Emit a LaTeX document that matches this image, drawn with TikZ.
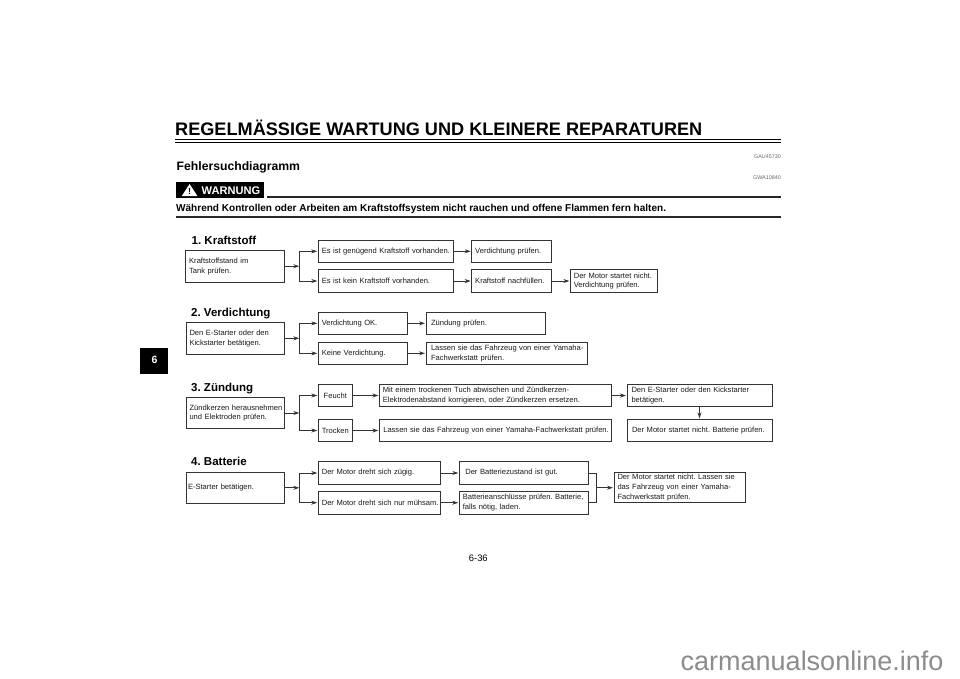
\documentclass[tikz,border=0pt]{standalone}
\usepackage{fontspec}
\setmainfont{Liberation Sans}
\usetikzlibrary{arrows.meta}
\frenchspacing
\hfuzz=20pt
\tikzset{
  flowbox/.style={draw=black!80,line width=0.85pt,inner xsep=3.5pt,inner ysep=0pt,outer sep=0pt,
    align=left,font=\fontsize{7.56}{9.7}\selectfont,text=black!90},
  boxsize/.style 2 args={minimum width=#1pt,minimum height=#2pt,text width=#1pt-7pt},
  flowline/.style={draw=black!80,line width=0.85pt},
  flowarrow/.style={flowline,-{Stealth[length=6pt,width=4pt]},shorten >=1pt},
  heading/.style={font=\bfseries\fontsize{11.5}{14}\selectfont,anchor=base west,inner sep=0pt},
  rulethick/.style={line width=1.5pt,black!85},
  codelabel/.style={font=\fontsize{5.4}{6}\selectfont,text=black!60,anchor=east,inner sep=0pt}
}
\begin{document}
\begin{tikzpicture}[x=1pt,y=-1pt]
  \useasboundingbox (0,0) rectangle (960,678);
  % page head
  \node[font=\bfseries\fontsize{18.13}{20}\selectfont,anchor=base west,inner sep=0pt] (title) at (175,135.7)
    {REGELMÄSSIGE WARTUNG UND KLEINERE REPARATUREN};
  \draw[line width=1.6pt,black] (175,139.3) -- (781,139.3);
  \draw[line width=1.2pt,black] (175,142.3) -- (781,142.3);
  \node[codelabel] (gau) at (781,156.5) {GAU45730};
  \node[codelabel] (gwa) at (781,178) {GWA10840};
  \node[font=\bfseries\fontsize{12.2}{14}\selectfont,anchor=base west,inner sep=0pt] (fehler) at (176.5,170) {Fehlersuchdiagramm};
  \fill[black] (176,182.3) rectangle (264.3,198.3);
  \fill[white,line join=round] (189.6,184) -- (197.4,196) -- (181.8,196) -- cycle;
  \node[font=\bfseries\fontsize{9}{10}\selectfont,inner sep=0pt] (warnmark) at (189.6,191) {!};
  \node[font=\bfseries\fontsize{11.1}{12}\selectfont,text=white,anchor=west,inner sep=0pt] (warnung) at (201.5,190.3) {WARNUNG};
  \draw[rulethick,line width=1.2pt] (267.3,197) -- (781,197);
  \node[font=\bfseries\fontsize{10.03}{11}\selectfont,anchor=base west,inner sep=0pt] (warntext) at (176,211)
    {Während Kontrollen oder Arbeiten am Kraftstoffsystem nicht rauchen und offene Flammen fern halten.};
  \draw[rulethick] (176,217) -- (781,217);
  \fill[black] (140,348) rectangle (168,374);
  \node[font=\bfseries\fontsize{10.5}{12}\selectfont,text=white,inner sep=0pt] (tab) at (154.5,360) {6};
  \node[font=\fontsize{9.4}{11}\selectfont,inner sep=0pt] (pagenum) at (478.3,558.3) {6-36};
  \node[font=\fontsize{27}{30}\selectfont,text=black!45,anchor=west,inner sep=0pt] (site) at (680.5,661) {carmanualsonline.info};

  % 1. Kraftstoff
  \node[heading] (h1) at (191.5,244) {1. Kraftstoff};
  \node[flowbox,boxsize={98.6}{31.7}] (ka) at (235,266.2) {Kraftstoffstand im\\Tank prüfen.};
  \node[flowbox,boxsize={135.4}{22.7}] (kb) at (386,251.3) {\mbox{Es ist genügend Kraftstoff vorhanden.}};
  \node[flowbox,boxsize={135.4}{22.7}] (kc) at (386,281) {Es ist kein Kraftstoff vorhanden.};
  \node[flowbox,boxsize={80}{22.7}] (kd) at (511.7,251.3) {Verdichtung prüfen.};
  \node[flowbox,boxsize={80}{22.7}] (ke) at (511.7,281) {\mbox{Kraftstoff nachfüllen.}};
  \node[flowbox,boxsize={87.4}{22.7}] (kf) at (614,281) {Der Motor startet nicht.\\Verdichtung prüfen.};
  \coordinate (kj) at (299.3,266.2);
  \draw[flowarrow,shorten >=0pt] (ka) -- (kj);
  \draw[flowarrow] (kj) |- (kb);
  \draw[flowarrow] (kj) |- (kc);
  \draw[flowarrow] (kb) -- (kd);
  \draw[flowarrow] (kc) -- (ke);
  \draw[flowarrow] (ke) -- (kf);

  % 2. Verdichtung
  \node[heading] (h2) at (191,316.7) {2. Verdichtung};
  \node[flowbox,boxsize={98}{31.4}] (va) at (235,338.3) {Den E-Starter oder den\\Kickstarter betätigen.};
  \node[flowbox,boxsize={88.7}{22}] (vb) at (362.7,323.3) {Verdichtung OK.};
  \node[flowbox,boxsize={88.7}{22.7}] (vc) at (362.7,353.3) {Keine Verdichtung.};
  \node[flowbox,boxsize={119.3}{22},inner xsep=5pt,text width=109.3pt] (vd) at (485.7,323.3) {Zündung prüfen.};
  \node[flowbox,boxsize={161}{22.7},inner xsep=5pt,text width=151pt] (ve) at (506.5,353.3) {\mbox{Lassen sie das Fahrzeug von einer Yamaha-}\\Fachwerkstatt prüfen.};
  \coordinate (vj) at (299.3,338.3);
  \draw[flowarrow,shorten >=0pt] (va) -- (vj);
  \draw[flowarrow] (vj) |- (vb);
  \draw[flowarrow] (vj) |- (vc);
  \draw[flowarrow] (vb) -- (vd);
  \draw[flowarrow] (vc) -- (ve);

  % 3. Zuendung
  \node[heading] (h3) at (191,391.7) {3. Zündung};
  \node[flowbox,boxsize={98}{31.4}] (za) at (235,413) {\mbox{Zündkerzen herausnehmen}\\und Elektroden prüfen.};
  \node[flowbox,boxsize={34}{22.4},align=center] (zb) at (335.3,395.5) {Feucht};
  \node[flowbox,boxsize={34}{22.4},align=center] (zc) at (335.3,430.5) {Trocken};
  \node[flowbox,boxsize={232}{22.4}] (zd) at (495.3,395.5) {\mbox{Mit einem trockenen Tuch abwischen und Zündkerzen-}\\\mbox{Elektrodenabstand korrigieren, oder Zündkerzen ersetzen.}};
  \node[flowbox,boxsize={232}{22.4},inner xsep=4pt,text width=224pt] (ze) at (495.3,430.5) {\mbox{Lassen sie das Fahrzeug von einer Yamaha-Fachwerkstatt prüfen.}};
  \node[flowbox,boxsize={145}{22.4},inner xsep=4.5pt,text width=136pt] (zf) at (699.5,395.5) {Den E-Starter oder den Kickstarter\\betätigen.};
  \node[flowbox,boxsize={145}{22.4},inner xsep=5pt,text width=135pt] (zg) at (699.5,430.5) {\mbox{Der Motor startet nicht. Batterie prüfen.}};
  \coordinate (zj) at (299.3,413);
  \draw[flowarrow,shorten >=0pt] (za) -- (zj);
  \draw[flowarrow] (zj) |- (zb);
  \draw[flowarrow] (zj) |- (zc);
  \draw[flowarrow] (zb) -- (zd);
  \draw[flowarrow] (zc) -- (ze);
  \draw[flowarrow] (zd) -- (zf);
  \draw[flowarrow] (zf) -- (zg);

  % 4. Batterie
  \node[heading] (h4) at (191,465.7) {4. Batterie};
  \node[flowbox,boxsize={98}{31.7},inner xsep=2pt,text width=94pt] (ba) at (235,487.8) {E-Starter betätigen.};
  \node[flowbox,boxsize={122}{22.7}] (bb) at (379.3,473) {Der Motor dreht sich zügig.};
  \node[flowbox,boxsize={122}{22.7}] (bc) at (379.3,502.7) {\mbox{Der Motor dreht sich nur mühsam.}};
  \node[flowbox,boxsize={129}{22.7},inner xsep=6pt,text width=117pt] (bd) at (523.8,473) {Der Batteriezustand ist gut.};
  \node[flowbox,boxsize={129}{22.7}] (be) at (523.8,502.7) {\mbox{Batterieanschlüsse prüfen. Batterie,}\\falls nötig, laden.};
  \node[flowbox,boxsize={131}{30}] (bf) at (679.5,487.7) {\mbox{Der Motor startet nicht. Lassen sie}\\\mbox{das Fahrzeug von einer Yamaha-}\\Fachwerkstatt prüfen.};
  \coordinate (bj) at (299.3,487.8);
  \coordinate (bk) at (596.3,487.7);
  \draw[flowarrow,shorten >=0pt] (ba) -- (bj);
  \draw[flowarrow] (bj) |- (bb);
  \draw[flowarrow] (bj) |- (bc);
  \draw[flowarrow] (bb) -- (bd);
  \draw[flowarrow] (bc) -- (be);
  \draw[flowline] (bd) -| (bk);
  \draw[flowline] (be) -| (bk);
  \draw[flowarrow] (bk) -- (bf);
\end{tikzpicture}
\end{document}
